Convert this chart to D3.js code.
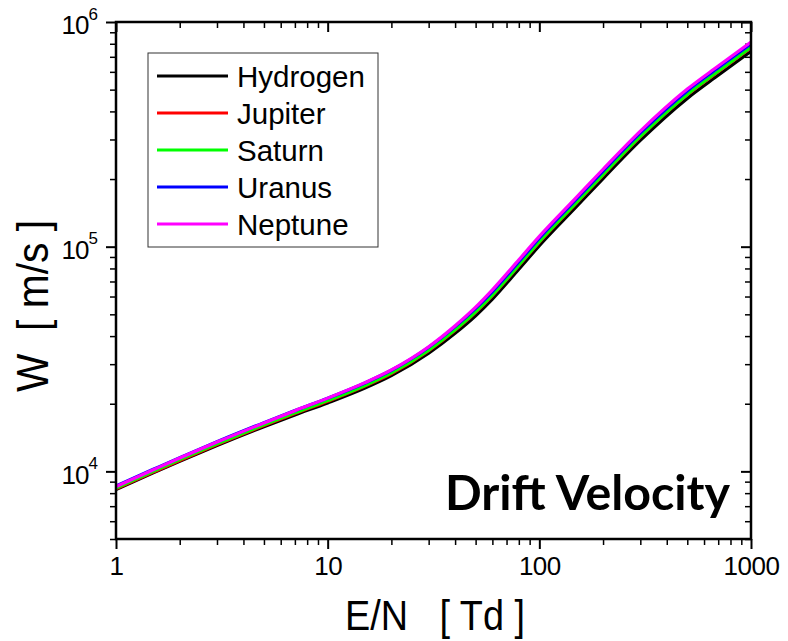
<!DOCTYPE html>
<html>
<head>
<meta charset="utf-8">
<script src="https://cdn.jsdelivr.net/npm/d3@7"></script>
<style>
  body { margin: 0; background: #fff; }
  svg text { font-family: "Liberation Sans", Arial, sans-serif; fill: #000; }
  .axis path, .axis line { stroke: #000; }
</style>
</head>
<body>
<div class="svg-container"></div>
<script>
// E/N values [Td] shared by all series
let eValues = [1, 1.5, 2, 3, 5, 7, 10, 15, 20, 30, 40, 50, 60, 80, 100, 150, 200, 300, 500, 700, 1000];

// drift velocity W [m/s]
let hydrogen = [8300, 9850, 11090, 13030, 15800, 17820, 20170, 23500, 26690, 33590, 41190, 49290, 58430, 79400, 101000, 151000, 201000, 297000, 457000, 579000, 741000];
let jupiter  = [8360, 9920, 11180, 13160, 15990, 18090, 20510, 23970, 27250, 34430, 42430, 51010, 60590, 82340, 104700, 156600, 208400, 308000, 473900, 600400, 768400];
let saturn   = [8430, 10010, 11280, 13260, 16120, 18210, 20650, 24110, 27440, 34660, 42670, 51260, 60880, 82730, 105200, 157300, 209400, 309500, 476200, 603300, 772100];
let uranus   = [8610, 10210, 11510, 13550, 16480, 18660, 21180, 24750, 28180, 35670, 44070, 53130, 63100, 85750, 109100, 163100, 217100, 320800, 493600, 625300, 800300];
let neptune  = [8560, 10160, 11460, 13500, 16430, 18620, 21180, 24820, 28290, 35870, 44490, 53820, 64270, 87340, 111100, 166100, 221100, 326700, 502700, 636900, 815100];

let seriesNames = ["Hydrogen", "Jupiter", "Saturn", "Uranus", "Neptune"];
let seriesColors = ["#000000", "#ff0000", "#00ff00", "#0000ff", "#ff00ff"];
let seriesValues = [hydrogen, jupiter, saturn, uranus, neptune];

let xMajor = [1, 10, 100, 1000];
let yMajor = [1e4, 1e5, 1e6];
let yExponents = ["4", "5", "6"];

let width = 788,
    height = 641,
    margin = {top: 22, right: 37, bottom: 102, left: 116};

let svg = d3.select(".svg-container").append("svg")
  .attr("width", width)
  .attr("height", height);

const xScale = d3.scaleLog()
  .domain([1, 1000])
  .range([margin.left, width - margin.right]);

const yScale = d3.scaleLog()
  .domain([5000, 1e6])
  .range([height - margin.bottom, margin.top]);

// minor ticks (2..9 of every decade)
let xMinor = [];
[1, 10, 100].forEach(d => { for (let k = 2; k <= 9; k++) xMinor.push(d * k); });
let yMinor = [];
[1e3, 1e4, 1e5].forEach(d => { for (let k = 2; k <= 9; k++) if (d * k >= 5000 && d * k < 1e6) yMinor.push(d * k); });

const plotBottom = height - margin.bottom,
      plotRight = width - margin.right;

// bottom axis
svg.append("g")
  .attr("class", "axis")
  .attr("transform", "translate(0," + plotBottom + ")")
  .call(d3.axisBottom(xScale).tickValues(xMinor).tickSize(6).tickFormat(""))
  .call(g => g.select(".domain").remove())
  .selectAll("line").attr("stroke-width", 1.5);

svg.append("g")
  .attr("class", "axis")
  .attr("transform", "translate(0," + plotBottom + ")")
  .call(d3.axisBottom(xScale).tickValues(xMajor).tickSize(10).tickPadding(8).tickFormat(d3.format("d")))
  .call(g => g.select(".domain").remove())
  .call(g => g.selectAll("line").attr("stroke-width", 2))
  .selectAll("text")
    .attr("font-size", 26)
    .attr("letter-spacing", -0.5);

// top axis, ticks pointing inside
svg.append("g")
  .attr("class", "axis")
  .attr("transform", "translate(0," + margin.top + ")")
  .call(d3.axisBottom(xScale).tickValues(xMinor).tickSize(6).tickFormat(""))
  .call(g => g.select(".domain").remove())
  .selectAll("line").attr("stroke-width", 1.5);

svg.append("g")
  .attr("class", "axis")
  .attr("transform", "translate(0," + margin.top + ")")
  .call(d3.axisBottom(xScale).tickValues(xMajor).tickSize(10).tickFormat(""))
  .call(g => g.select(".domain").remove())
  .selectAll("line").attr("stroke-width", 2);

// left axis
svg.append("g")
  .attr("class", "axis")
  .attr("transform", "translate(" + margin.left + ",0)")
  .call(d3.axisLeft(yScale).tickValues(yMinor).tickSize(6).tickFormat(""))
  .call(g => g.select(".domain").remove())
  .selectAll("line").attr("stroke-width", 1.5);

let yAxisMajor = svg.append("g")
  .attr("class", "axis")
  .attr("transform", "translate(" + margin.left + ",0)")
  .call(d3.axisLeft(yScale).tickValues(yMajor).tickSize(10).tickPadding(8).tickFormat(""))
  .call(g => g.select(".domain").remove());
yAxisMajor.selectAll("line").attr("stroke-width", 2);

yAxisMajor.selectAll(".tick text")
  .attr("font-size", 26)
  .attr("dy", "0.45em")
  .each(function(d, i) {
    let t = d3.select(this);
    t.append("tspan").text("10").attr("letter-spacing", -1);
    t.append("tspan").text(yExponents[i]).attr("font-size", 17).attr("dy", "-0.85em");
  });

// right axis, ticks pointing inside
svg.append("g")
  .attr("class", "axis")
  .attr("transform", "translate(" + plotRight + ",0)")
  .call(d3.axisLeft(yScale).tickValues(yMinor).tickSize(6).tickFormat(""))
  .call(g => g.select(".domain").remove())
  .selectAll("line").attr("stroke-width", 1.5);

svg.append("g")
  .attr("class", "axis")
  .attr("transform", "translate(" + plotRight + ",0)")
  .call(d3.axisLeft(yScale).tickValues(yMajor).tickSize(10).tickFormat(""))
  .call(g => g.select(".domain").remove())
  .selectAll("line").attr("stroke-width", 2);

// clip for curves
svg.append("clipPath")
  .attr("id", "plot-clip")
  .append("rect")
  .attr("x", margin.left)
  .attr("y", margin.top)
  .attr("width", plotRight - margin.left)
  .attr("height", plotBottom - margin.top);

const line = d3.line()
  .x(d => xScale(d[0]))
  .y(d => yScale(d[1]))
  .curve(d3.curveMonotoneX);

svg.append("g")
  .attr("clip-path", "url(#plot-clip)")
  .selectAll("path")
  .data(seriesValues)
  .enter()
  .append("path")
  .attr("d", vals => line(eValues.map((e, i) => [e, vals[i]])))
  .attr("fill", "none")
  .attr("stroke", (d, i) => seriesColors[i])
  .attr("stroke-width", 3.2);

// frame
svg.append("rect")
  .attr("x", margin.left)
  .attr("y", margin.top)
  .attr("width", plotRight - margin.left)
  .attr("height", plotBottom - margin.top)
  .attr("fill", "none")
  .attr("stroke", "#000")
  .attr("stroke-width", 2.5);

// legend
let legend = svg.append("g").attr("transform", "translate(148,53)");
legend.append("rect")
  .attr("width", 230)
  .attr("height", 194)
  .attr("fill", "#fff")
  .attr("stroke", "#333")
  .attr("stroke-width", 1);

let rows = legend.selectAll(".row")
  .data(seriesNames)
  .enter()
  .append("g")
  .attr("class", "row")
  .attr("transform", (d, i) => "translate(0," + (23 + 37 * i) + ")");

rows.append("line")
  .attr("x1", 9)
  .attr("x2", 80)
  .attr("stroke", (d, i) => seriesColors[i])
  .attr("stroke-width", 3.2);

rows.append("text")
  .attr("x", 89)
  .attr("dy", "0.36em")
  .attr("font-size", 29.5)
  .text(d => d);

// annotation
svg.append("text")
  .text("Drift Velocity")
  .attr("x", 445)
  .attr("y", 510)
  .style("font-family", "Lato, 'Open Sans', sans-serif")
  .attr("font-weight", "bold")
  .attr("font-size", 48)
  .attr("textLength", 285)
  .attr("lengthAdjust", "spacingAndGlyphs");

// axis titles
svg.append("text")
  .text("E/N   [ Td ]")
  .attr("x", 345)
  .attr("y", 630)
  .attr("font-size", 42)
  .attr("textLength", 180)
  .attr("lengthAdjust", "spacingAndGlyphs")
  .style("white-space", "pre");

svg.append("text")
  .text("W  [ m/s ]")
  .attr("transform", "translate(48,392) rotate(-90)")
  .attr("font-size", 44)
  .attr("textLength", 172)
  .attr("lengthAdjust", "spacingAndGlyphs")
  .style("white-space", "pre");
</script>
</body>
</html>
